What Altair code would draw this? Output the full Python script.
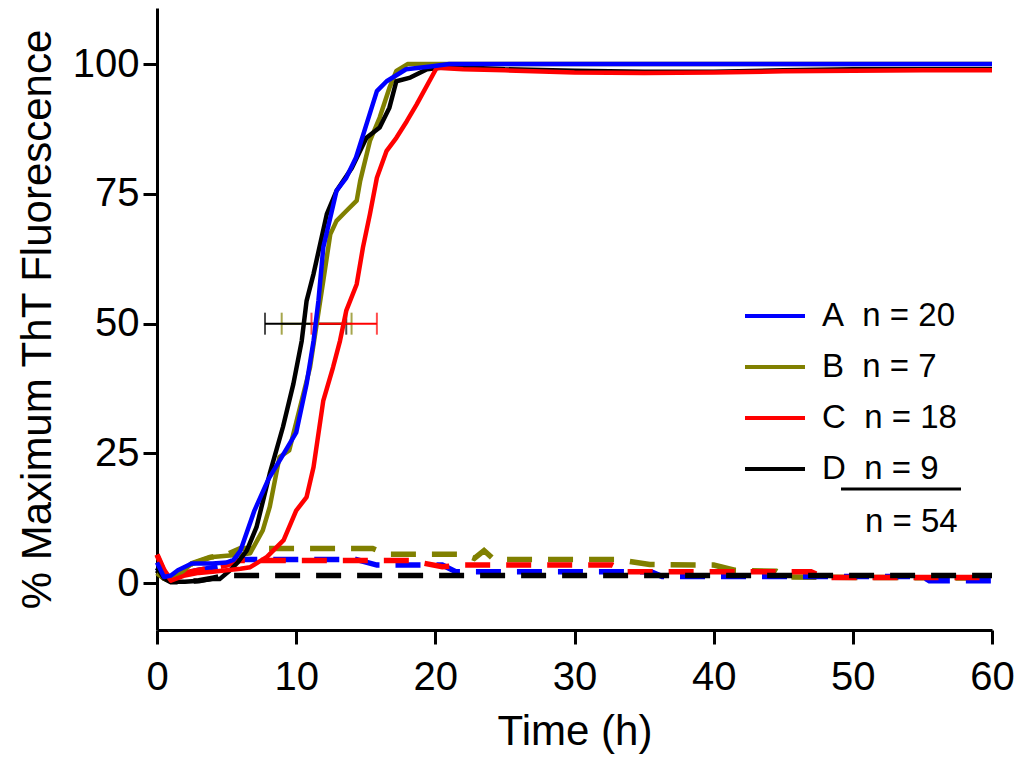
import altair as alt
import pandas as pd

FONT = "Liberation Sans"
NB = "\u00a0\u00a0"
series = ["A", "B", "C", "D"]
counts = [20, 7, 18, 9]
total_n = 54
labels = [f"{s}{NB}n = {n}" for s, n in zip(series, counts)]
colors = ["#0000ff", "#808000", "#ff0000", "#000000"]

# ---- solid curves (seeded) ----
a_t = [0, 0.5, 1, 1.5, 2.5, 4, 5, 5.5, 6, 7, 8, 9, 10, 10.75, 11.25, 11.6, 11.95, 12.45, 12.9, 13.6, 14.3, 15.05, 15.8, 16.5, 17.9, 19.8, 21, 30, 40, 50, 60]
a_v = [4, 1.2, 1.5, 2.5, 3.8, 3.8, 4, 4.5, 6.3, 14, 20, 24.5, 29, 38.4, 46.7, 54.4, 64.7, 70.4, 75.6, 78.1, 82, 88.4, 94.8, 96.7, 99, 99.6, 100, 100, 100, 100, 100]

b_t = [0, 0.5, 1, 1.5, 2.5, 3.8, 5, 6, 6.7, 7.6, 8.1, 8.8, 9.5, 11, 11.95, 12.45, 12.9, 13.6, 14.35, 14.6, 15.3, 16, 16.7, 17.2, 18, 30, 40, 50, 60]
b_v = [2, 1, 0.5, 1.5, 3.8, 5, 5.3, 5.5, 5.8, 10.2, 14.7, 24.3, 25.6, 41.6, 58.3, 67.2, 69.8, 71.7, 73.7, 77.5, 85.2, 89.7, 95.4, 98.7, 100, 100, 100, 100, 100]

c_t = [0, 0.5, 1, 2, 3, 4, 5, 6, 6.7, 7.9, 9.1, 10, 10.75, 11.25, 11.95, 12.65, 13.15, 13.6, 14.35, 14.8, 15.3, 15.8, 16.5, 17.2, 17.95, 18.65, 20.1, 22, 25, 30, 35, 40, 45, 50, 55, 60]
c_v = [5.5, 2.5, 0.5, 1.5, 2, 2.2, 2.5, 2.8, 3.1, 5.1, 8.3, 14, 16.6, 22.4, 35.2, 41.6, 46.7, 52.5, 57.6, 64.7, 71.1, 78.1, 83.3, 85.8, 89, 92.2, 99.3, 99, 98.8, 98.4, 98.3, 98.4, 98.6, 98.7, 98.8, 98.8]

d_t = [0, 0.5, 1, 2, 3, 4, 4.5, 5.25, 5.8, 6.45, 7.15, 8.1, 9.05, 9.8, 10.4, 10.75, 11.25, 12.2, 12.9, 14, 15.05, 16, 16.7, 17.2, 18.2, 19.4, 21, 25, 30, 35, 40, 45, 50, 55, 60]
d_v = [3, 1, 0.3, 0.3, 0.5, 0.8, 0.8, 2.5, 4, 6.3, 10.8, 21.1, 30.1, 38.4, 46.7, 54.4, 59.6, 71.1, 75.6, 80, 85.8, 87.8, 91.6, 96.7, 97.4, 99, 99.5, 99, 98.7, 98.5, 98.5, 98.8, 99, 99, 99]

# ---- dashed curves (controls) ----
ad_t = [0, 0.5, 1, 2, 3, 4, 5, 6, 14.3, 15.8, 20.5, 21.5, 35.5, 36.3, 55, 55.5, 60]
ad_v = [3, 1.5, 1, 2, 2.5, 3, 3.5, 4.6, 4.6, 3.5, 3.5, 2.2, 2.2, 1.3, 1.3, 0.5, 0.5]

bd_t = [0, 0.5, 1, 2, 2.5, 3.8, 5, 6, 15.5, 16.5, 22, 22.8, 23.5, 24.2, 33, 35.4, 40, 41.5, 44.5, 45.2, 60]
bd_v = [2, 1, 0.5, 2.5, 3.8, 5, 5.5, 6.7, 6.7, 5.6, 5.6, 4.8, 6.3, 4.6, 4.6, 3.6, 3.5, 2.5, 2.3, 1.2, 1.0]

cd_t = [0, 0.5, 1, 2, 3, 4, 5, 6, 18.2, 19.1, 20.5, 22, 32.7, 33.7, 47, 48, 60]
cd_v = [5.5, 2.5, 0.5, 2, 2.5, 3, 3.5, 4.4, 4.4, 3.9, 3.2, 3.5, 3.5, 2.2, 2.2, 1.1, 1.1]

dd_t = [0, 0.5, 1, 2, 3, 4, 5, 60]
dd_v = [2.5, 1, 0.3, 0.3, 0.5, 1, 1.5, 1.5]

# ---- t50 error bars ----
eb_series = ["B", "D", "C"]
eb_lo = [8.96, 7.76, 11.1]
eb_hi = [13.98, 13.6, 15.8]
eb_y = 50

solid = {"A": (a_t, a_v), "B": (b_t, b_v), "C": (c_t, c_v), "D": (d_t, d_v)}
dashed = {"A": (ad_t, ad_v), "B": (bd_t, bd_v), "C": (cd_t, cd_v), "D": (dd_t, dd_v)}
lab = dict(zip(series, labels))
col = dict(zip(series, colors))

x_scale = alt.Scale(domain=[0, 60], nice=False, zero=False)
y_scale = alt.Scale(domain=[-9, 110.8], nice=False, zero=False)
x_axis = alt.Axis(title="Time (h)", values=[0, 10, 20, 30, 40, 50, 60], format="d",
                  labelPadding=13, titlePadding=14, labelFlush=False)
y_axis = alt.Axis(title="% Maximum ThT Fluorescence", values=[0, 25, 50, 75, 100], format="d",
                  labelPadding=4, titlePadding=13, labelFlush=False)

legend = alt.Legend(title=None, orient="none", legendX=586, legendY=293,
                    symbolType="stroke", symbolSize=3600, symbolStrokeWidth=4,
                    clipHeight=30, rowPadding=18, labelOffset=15,
                    labelFont=FONT, labelFontSize=33, labelColor="black",
                    padding=0)
color_enc = alt.Color("label:N", scale=alt.Scale(domain=labels, range=colors), legend=legend)


def frame(t, v, s):
    return pd.DataFrame({"t": t, "v": v, "label": lab[s]})


layers = []

# error bars (behind curves)
eb = pd.DataFrame({"label": [lab[s] for s in eb_series], "lo": eb_lo, "hi": eb_hi, "y": eb_y})
for s in eb_series:
    sub = eb[eb["label"] == lab[s]]
    layers.append(alt.Chart(sub).mark_rule(strokeWidth=2, color=col[s]).encode(
        x=alt.X("lo:Q", scale=x_scale, axis=x_axis), x2="hi:Q",
        y=alt.Y("y:Q", scale=y_scale, axis=y_axis)))
    caps = sub.melt(id_vars=["label", "y"], value_vars=["lo", "hi"], value_name="xc")
    layers.append(alt.Chart(caps).mark_tick(orient="vertical", size=22, thickness=2, color=col[s]).encode(
        x=alt.X("xc:Q", scale=x_scale, axis=x_axis),
        y=alt.Y("y:Q", scale=y_scale, axis=y_axis)))

# dashed controls
for s in ["B", "A", "C", "D"]:
    t, v = dashed[s]
    layers.append(alt.Chart(frame(t, v, s)).mark_line(
        strokeWidth=5.5, strokeDash=[25, 16], color=col[s], strokeCap="butt").encode(
        x=alt.X("t:Q", scale=x_scale, axis=x_axis),
        y=alt.Y("v:Q", scale=y_scale, axis=y_axis)))

# solid seeded curves
for s in ["B", "D", "C", "A"]:
    t, v = solid[s]
    layers.append(alt.Chart(frame(t, v, s)).mark_line(strokeWidth=4.5, strokeJoin="round").encode(
        x=alt.X("t:Q", scale=x_scale, axis=x_axis),
        y=alt.Y("v:Q", scale=y_scale, axis=y_axis),
        color=color_enc))

# total-n annotation under the legend
layers.append(alt.Chart(alt.Data(values=[{"k": 1}])).mark_rule(strokeWidth=3, color="black").encode(
    x=alt.value(684), x2=alt.value(804), y=alt.value(481)))
layers.append(alt.Chart(alt.Data(values=[{"txt": f"n = {total_n}"}])).mark_text(
    font=FONT, fontSize=33, align="left", baseline="alphabetic", color="black").encode(
    x=alt.value(708), y=alt.value(524), text="txt:N"))

chart = alt.layer(*layers).properties(
    width=835, height=622,
    autosize=alt.AutoSizeParams(type="none"),
    padding={"left": 149, "top": 0, "right": 24, "bottom": 130},
).configure_view(stroke=None).configure_axis(
    grid=False, domainColor="black", domainWidth=3, tickColor="black", tickWidth=3, tickSize=14,
    labelFont=FONT, labelFontSize=40, labelColor="black",
    titleFont=FONT, titleFontSize=42, titleFontWeight="normal", titleColor="black",
)

chart.save("out.html", embed_options={"renderer": "svg", "actions": False})
